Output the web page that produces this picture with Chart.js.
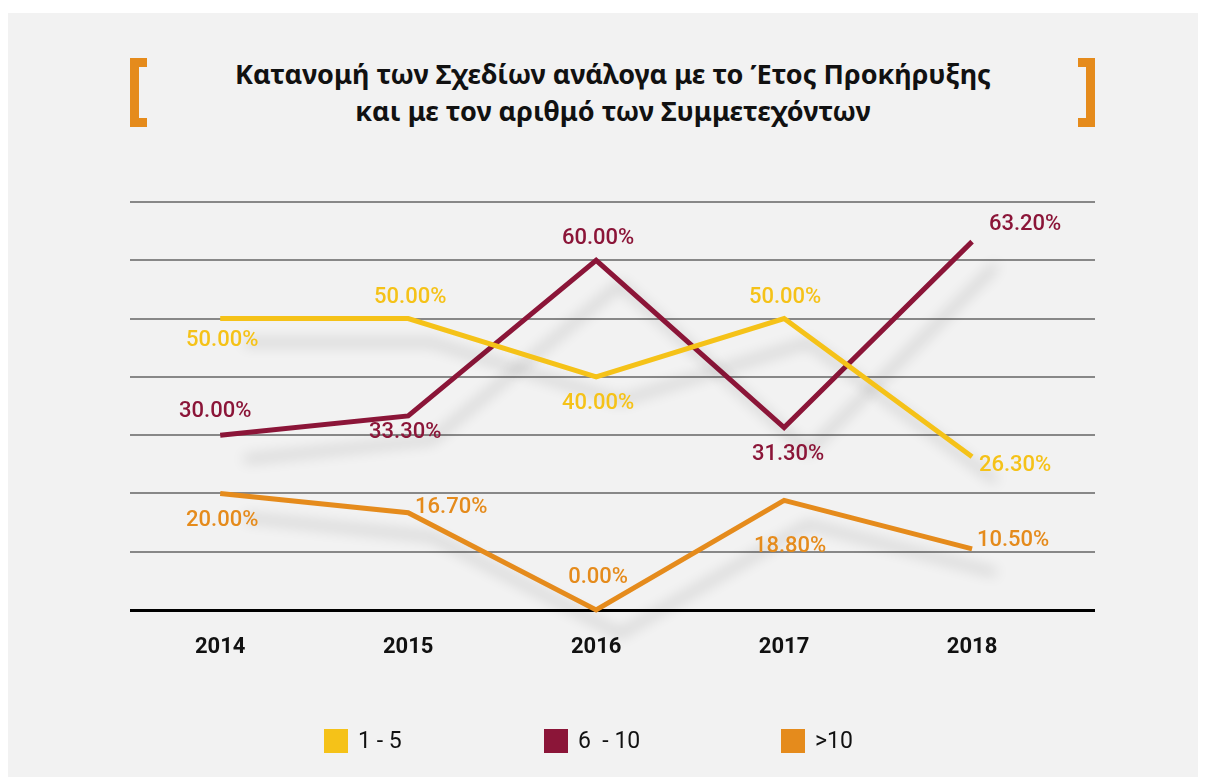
<!DOCTYPE html>
<html lang="el">
<head>
    <meta charset="UTF-8">
    <title>Κατανομή των Σχεδίων</title>
    <script src="https://cdn.jsdelivr.net/npm/chart.js"></script>
    <style>
        body {
            margin: 0;
            padding: 0;
            background-color: #fff;
            width: 1206px;
            height: 777px;
            overflow: hidden;
            position: relative;
            font-family: Roboto, Arial, sans-serif;
        }
        .panel {
            position: absolute;
            left: 8px;
            top: 13px;
            width: 1190px;
            height: 770px;
            background-color: #f2f2f2;
        }
        .title {
            position: absolute;
            left: 0;
            width: 1226px;
            top: 55px;
            text-align: center;
            font-family: "Noto Sans", sans-serif;
            font-weight: bold;
            font-size: 27px;
            line-height: 37px;
            color: #111;
        }
        .bracket {
            position: absolute;
            top: 58px;
            width: 8px;
            height: 51px;
            border: 9px solid #e58b1c;
        }
        .bracket.left { left: 130px; border-right: none; }
        .bracket.right { left: 1078px; border-left: none; }
        .chart-box {
            position: absolute;
            left: 0;
            top: 0;
        }
        .legend {
            position: absolute;
            top: 729px;
            left: 0;
            font-size: 23px;
            color: #111;
        }
        .legend-item {
            position: absolute;
            white-space: nowrap;
            line-height: 24px;
        }
        .legend-item span {
            display: inline-block;
            width: 24px;
            height: 24px;
            vertical-align: top;
            margin-right: 10px;
        }
    </style>
</head>
<body>
    <div class="panel"></div>
    <div class="bracket left"></div>
    <div class="bracket right"></div>
    <div class="title">Κατανομή των Σχεδίων ανάλογα με το Έτος Προκήρυξης<br>και με τον αριθμό των Συμμετεχόντων</div>

    <div class="chart-box">
        <canvas id="chart" width="1206" height="777"></canvas>
    </div>

    <div class="legend" id="legend"></div>

    <script>
        // data
        const years = [2014, 2015, 2016, 2017, 2018];
        const seriesNames = ["1 - 5", "6  - 10", ">10"];
        const small = [50.0, 50.0, 40.0, 50.0, 26.3];
        const medium = [30.0, 33.3, 60.0, 31.3, 63.2];
        const large = [20.0, 16.7, 0.0, 18.8, 10.5];

        const colors = ["#f5c218", "#8b1538", "#e58b1c"];

        // where each value label sits relative to its point (dx, dy)
        const labelOffsets = [
            [[2, 22], [2, -21], [2, 27], [1, -21], [43, 9]],
            [[-5, -24], [-3, 17], [2, -22], [4, 27], [53, -17]],
            [[2, 27], [43, -5], [2, -33], [6, 46], [41, -8]]
        ];

        const toPoints = vals => years.map((yr, i) => ({ x: yr, y: vals[i] }));

        const lineShadow = {
            id: "lineShadow",
            beforeDatasetDraw(chart) {
                const ctx = chart.ctx;
                ctx.save();
                ctx.shadowColor = "rgba(0, 0, 0, 0.2)";
                ctx.shadowBlur = 14;
                ctx.shadowOffsetX = 24;
                ctx.shadowOffsetY = 24;
            },
            afterDatasetDraw(chart) {
                chart.ctx.restore();
            }
        };

        const valueLabels = {
            id: "valueLabels",
            afterDatasetsDraw(chart) {
                const ctx = chart.ctx;
                ctx.save();
                ctx.font = "500 22px Roboto";
                ctx.textAlign = "center";
                ctx.textBaseline = "middle";
                chart.data.datasets.forEach((ds, di) => {
                    const meta = chart.getDatasetMeta(di);
                    ctx.fillStyle = ds.borderColor;
                    meta.data.forEach((pt, i) => {
                        const off = labelOffsets[di][i];
                        ctx.fillText(ds.data[i].y.toFixed(2) + "%", pt.x + off[0], pt.y + off[1]);
                    });
                });
                ctx.restore();
            }
        };

        const datasets = [small, medium, large].map((vals, i) => ({
            label: seriesNames[i],
            data: toPoints(vals),
            borderColor: colors[i],
            backgroundColor: colors[i],
            borderWidth: 5,
            pointRadius: 0,
            tension: 0,
            clip: false
        }));

        new Chart(document.getElementById("chart"), {
            type: "line",
            data: { datasets: datasets },
            options: {
                responsive: false,
                animation: false,
                layout: {
                    padding: { left: 130, right: 111, top: 202, bottom: 107 }
                },
                plugins: {
                    legend: { display: false },
                    tooltip: { enabled: false }
                },
                scales: {
                    x: {
                        type: "linear",
                        min: 2013.52,
                        max: 2018.654,
                        afterBuildTicks: scale => {
                            scale.ticks = years.map(v => ({ value: v }));
                        },
                        afterFit: scale => { scale.height = 60; },
                        grid: { display: false },
                        border: { display: false },
                        ticks: {
                            padding: 16,
                            color: "#111",
                            font: { family: "Roboto", size: 22, weight: "bold" },
                            callback: v => String(v)
                        }
                    },
                    y: {
                        min: 0,
                        max: 70,
                        afterFit: scale => { scale.width = 0; },
                        ticks: { display: false, stepSize: 10 },
                        border: { display: false },
                        grid: {
                            drawTicks: false,
                            color: c => c.tick.value === 0 ? "#000" : "#888",
                            lineWidth: c => c.tick.value === 0 ? 3 : 2
                        }
                    }
                }
            },
            plugins: [lineShadow, valueLabels]
        });

        // legend below the chart
        const legend = document.getElementById("legend");
        const legendLeft = [324, 544, 781];
        seriesNames.forEach((name, i) => {
            const item = document.createElement("div");
            item.className = "legend-item";
            item.style.left = legendLeft[i] + "px";
            item.innerHTML = '<span style="background:' + colors[i] + '"></span>' + name.replace(/ /g, "&nbsp;");
            legend.appendChild(item);
        });
    </script>
</body>
</html>
